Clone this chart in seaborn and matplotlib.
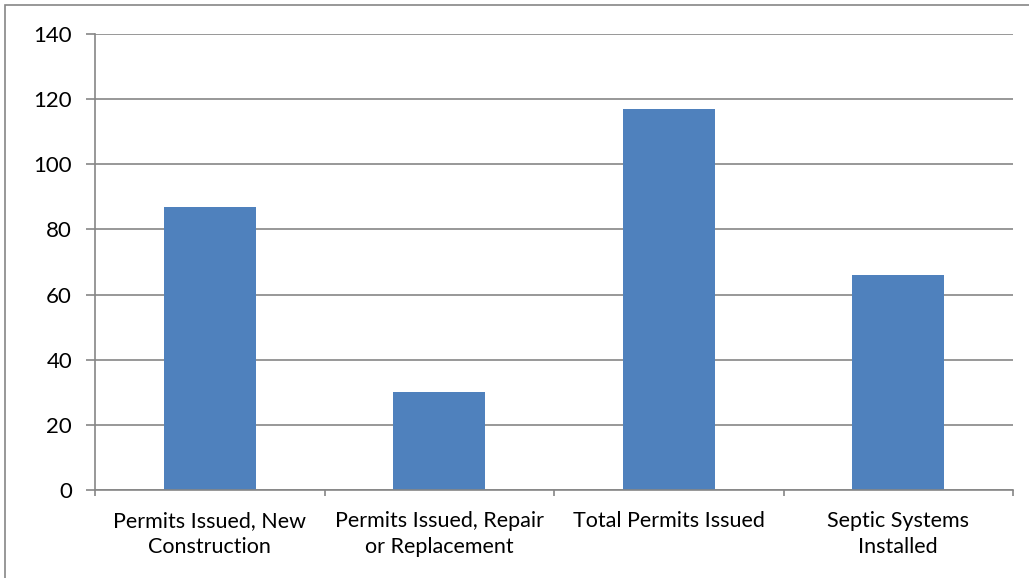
import matplotlib
matplotlib.use("Agg")
import matplotlib.pyplot as plt
import seaborn as sns
import pandas as pd
from matplotlib.patches import Rectangle

categories = ["Permits Issued, New\nConstruction", "Permits Issued, Repair\nor Replacement",
              "Total Permits Issued", "Septic Systems\nInstalled"]
values = [87, 30, 117, 66]
yticks = [0, 20, 40, 60, 80, 100, 120, 140]

sns.set_theme(style="white")
plt.rcParams['font.family'] = ['Lato', 'DejaVu Sans']

df = pd.DataFrame({"cat": categories, "val": values})
fig = plt.figure(figsize=(10.29, 5.78), dpi=100)
ax = fig.add_axes([95/1029, 1-490/578, (1013-95)/1029, (490-34)/578])
sns.barplot(data=df, x="cat", y="val", color="#4F81BD", width=0.4, saturation=1,
            edgecolor="none", ax=ax)
ax.set_xlim(-0.5, 3.5)
ax.set_ylim(0, 140)
ax.set_yticks(yticks)
ax.set_xlabel("")
ax.set_ylabel("")
ax.grid(axis="y", color="#868686", linewidth=1.2)
ax.set_axisbelow(True)
for s in ["top", "right"]:
    ax.spines[s].set_visible(False)
for s in ["left", "bottom"]:
    ax.spines[s].set_color("#868686")
    ax.spines[s].set_linewidth(1.2)
ax.tick_params(axis="y", length=6.5, color="#868686", width=1.2, labelsize=16, pad=10, left=True, labelcolor="black")
ax.set_xticks([0, 1, 2, 3])
ax.set_xticklabels(categories)
ax.set_xticks([-0.5, 0.5, 1.5, 2.5, 3.5], minor=True)
ax.tick_params(axis="x", which="major", length=0, labelsize=15.5, pad=15, labelcolor="black")
ax.tick_params(axis="x", which="minor", length=4.5, color="#868686", width=1.2, bottom=True)
for t in ax.get_xticklabels():
    t.set_linespacing(1.4)

fig.patches.append(Rectangle((5/1029, -0.1), 1.2, 1-5/578+0.1, transform=fig.transFigure,
                             fill=False, edgecolor="#868686", linewidth=1.2))
fig.savefig("out.png", dpi=100)
